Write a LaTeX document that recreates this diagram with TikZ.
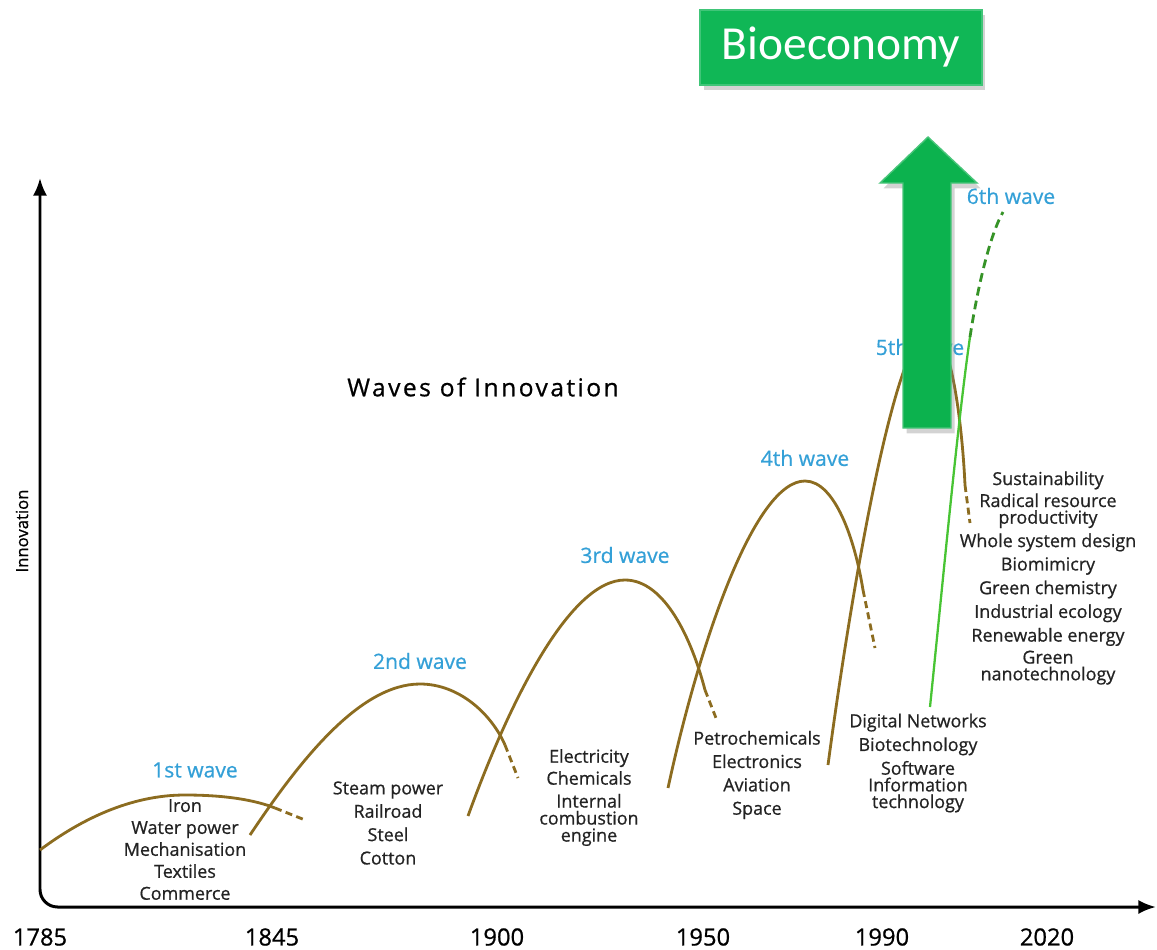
\documentclass[tikz,border=0pt]{standalone}
\usepackage{fontspec}
\setmainfont{Open Sans}
\newfontfamily\chartfont[FakeBold=0.7]{Open Sans}
\newfontfamily\boxfont{Carlito}
\usetikzlibrary{arrows.meta,shadows}
\definecolor{wavebrown}{RGB}{140,108,32}
\definecolor{wavelabel}{RGB}{52,160,215}
\definecolor{itemgray}{RGB}{35,35,35}
\definecolor{bioGreen}{RGB}{16,183,86}
\definecolor{arrowGreen}{RGB}{12,178,78}
\definecolor{sixthgreen}{RGB}{72,196,52}
\def\px{0.02cm}

\begin{document}
\begin{tikzpicture}[x=\px,y=-\px]
    \tikzstyle{axis}=[line width=1.7pt,rounded corners=10pt,{Latex[length=10pt,width=8pt]}-{Latex[length=10pt,width=8pt]}]
    \tikzstyle{wave}=[draw=wavebrown,line width=1.6pt]
    \tikzstyle{fade}=[wave,dash pattern=on 4pt off 2.5pt]
    \tikzstyle{wave label}=[text=wavelabel,font=\chartfont\fontsize{12}{14}\selectfont]
    \tikzstyle{items}=[align=center,text=itemgray,font=\chartfont\fontsize{10.2}{12.5}\selectfont]
    \tikzstyle{year}=[font=\chartfont\fontsize{13.5}{15}\selectfont]
    \tikzstyle{biobox}=[fill=bioGreen,draw=bioGreen!80!white,line width=1pt,minimum width=5.64cm,minimum height=1.5cm,
        text=white,font=\boxfont\fontsize{27}{30}\selectfont,
        drop shadow={opacity=0.35,shadow xshift=2pt,shadow yshift=-3pt}]

    \useasboundingbox (0,0) rectangle (1157,950);

    % Draw the axes
    \draw[axis] (40,178) -- (40,907) -- (1156,907);
    \node[rotate=90,font=\chartfont\fontsize{9.5}{11}\selectfont] (inno) at (22,531) {Innovation};
    \foreach \yr/\x in {1785/40,1845/272,1900/497,1950/703,1990/882,2020/1047}
        \node[year] (y-\yr) at (\x,937) {\yr};

    \node[font=\chartfont\fontsize{14}{16}\selectfont\addfontfeature{LetterSpace=10}] (title) at (483,387) {Waves of Innovation};

    % Draw the waves
    \draw[wave] (40,850) .. controls (80,820) and (130,795) .. (185,795)
        .. controls (225,795) and (255,800) .. (275,808) coordinate (w1);
    \draw[fade] (w1) -- (305,820);
    \draw[wave] (250,835) .. controls (300,760) and (360,684) .. (420,684)
        .. controls (460,684) and (492,715) .. (505,745) coordinate (w2);
    \draw[fade] (w2) -- (518,778);
    \draw[wave] (468,816) .. controls (510,700) and (570,580) .. (625,580)
        .. controls (665,580) and (692,640) .. (705,690) coordinate (w3);
    \draw[fade] (w3) -- (716,718);
    \draw[wave] (668,788) .. controls (700,640) and (755,481) .. (805,481)
        .. controls (835,481) and (855,540) .. (863,590) coordinate (w4);
    \draw[fade] (w4) -- (875,648);
    \draw[wave] (828,765) .. controls (850,600) and (895,330) .. (930,330)
        .. controls (950,330) and (962,420) .. (965,485) coordinate (w5);
    \draw[fade] (w5) -- (970,523);

    % Annotate the waves
    \node[wave label] (l1) at (195,770) {1st wave};
    \node[wave label] (l2) at (420,661) {2nd wave};
    \node[wave label] (l3) at (625,555) {3rd wave};
    \node[wave label] (l4) at (805,458) {4th wave};
    \node[wave label] (l5) at (920,347) {5th wave};
    \node[wave label] (l6) at (1011,196) {6th wave};

    % Technologies of each wave
    \node[items] (t1) at (185,849.5) {Iron\\Water power\\Mechanisation\\Textiles\\Commerce};
    \node[items] (t2) at (388,823) {Steam power\\[0.8pt]Railroad\\[0.8pt]Steel\\[0.8pt]Cotton};
    \node[items] (t3) at (589,797.5) {Electricity\\Chemicals\\[0.5pt]Internal\\[-2.8pt]combustion\\[-2.8pt]engine};
    \node[items] (t4) at (757,775) {Petrochemicals\\[0.8pt]Electronics\\[0.8pt]Aviation\\[0.8pt]Space};
    \node[items] (t5) at (918,763) {Digital Networks\\[1pt]Biotechnology\\[1pt]Software\\[-3pt]Information\\[-3pt]technology};
    \node[items] (t6) at (1048,578) {Sustainability\\Radical resource\\[-3pt]productivity\\[0.8pt]Whole system design\\[0.8pt]Biomimicry\\[1pt]Green chemistry\\[1pt]Industrial ecology\\[1pt]Renewable energy\\Green\\[-3pt]nanotechnology};

    % The big arrow and the box
    \path[fill=arrowGreen,draw=arrowGreen!75!white,line width=0.8pt,
        drop shadow={opacity=0.35,shadow xshift=2pt,shadow yshift=-3pt}]
        (903,428) -- (903,183) -- (880,183) -- (928,137) -- (977,183)
        -- (951,183) -- (951,428) -- cycle;
    \node[biobox] (bio) at (841,47.5) {Bioeconomy};

    % Sixth wave
    \draw[sixthgreen,line width=1.3pt] (930,707) .. controls (945,560) and (958,420) .. (970,337) coordinate (w6);
    \draw[sixthgreen!75!black,line width=1.6pt,dash pattern=on 5pt off 3pt] (w6) .. controls (978,285) and (990,235) .. (1003,212);
\end{tikzpicture}
\end{document}
